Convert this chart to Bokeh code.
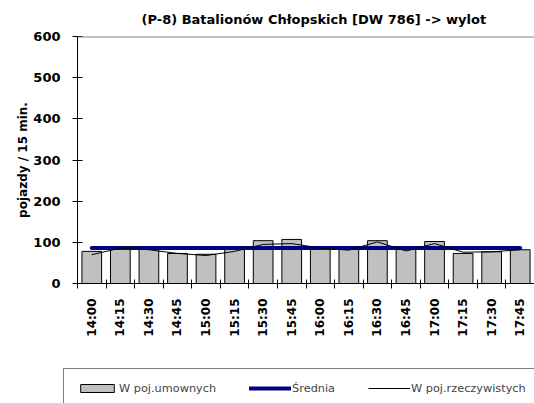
from math import pi
from bokeh.plotting import figure
from bokeh.layouts import column
from bokeh.models import FixedTicker, Span, Legend, LegendItem, Range1d
from bokeh.embed import file_html
from bokeh.resources import INLINE

# ---- data ----
times = ["14:00", "14:15", "14:30", "14:45", "15:00", "15:15", "15:30", "15:45",
         "16:00", "16:15", "16:30", "16:45", "17:00", "17:15", "17:30", "17:45"]
umowne = [78, 85, 83, 73, 71, 83, 104, 107, 85, 83, 104, 83, 102, 73, 77, 82]
rzeczywiste = [70, 86, 82, 73, 68, 78, 95, 97, 86, 81, 101, 79, 97, 76, 77, 82]
srednia = [86] * len(times)
y_ticks = [0, 100, 200, 300, 400, 500, 600]

FONT = "DejaVu Sans"
idx = list(range(len(times)))

BAR_STYLE = dict(fill_color="#C0C0C0", line_color="black", line_width=1)
MEAN_STYLE = dict(line_color="#000080", line_width=4, line_cap="round")
REAL_STYLE = dict(line_color="black", line_width=1)

p = figure(width=534, height=366, output_backend="svg", toolbar_location=None,
           x_range=Range1d(-0.5, len(times) - 0.5), y_range=Range1d(0, 600),
           min_border_left=77, min_border_right=0, min_border_top=35,
           min_border_bottom=83)
p.frame_align = False
p.background_fill_color = "white"
p.border_fill_color = "white"
p.outline_line_color = None
p.xgrid.visible = False
p.ygrid.visible = False

p.title.text = "(P-8) Batalionów Chłopskich [DW 786] -> wylot"
p.title.text_font = FONT
p.title.text_font_size = "13px"
p.title.text_font_style = "bold"
p.title.text_color = "black"
p.title.align = "left"
p.title.offset = 64
p.title.standoff = 19

# x axis
xa = p.xaxis[0]
xa.ticker = FixedTicker(ticks=idx, minor_ticks=[i - 0.5 for i in range(len(times) + 1)])
xa.major_label_overrides = {i: t for i, t in zip(idx, times)}
xa.major_label_orientation = pi / 2
xa.major_tick_in = 0
xa.major_tick_out = 0
xa.minor_tick_in = 4
xa.minor_tick_out = 5
xa.minor_tick_line_color = "black"
xa.axis_line_color = "black"
xa.major_label_text_font = FONT
xa.major_label_text_font_size = "12px"
xa.major_label_text_font_style = "bold"
xa.major_label_text_color = "black"
xa.major_label_standoff = 10

# y axis
ya = p.yaxis[0]
ya.ticker = FixedTicker(ticks=y_ticks)
ya.major_tick_in = 5
ya.major_tick_out = 5
ya.minor_tick_line_color = None
ya.axis_line_color = "black"
ya.major_tick_line_color = "black"
ya.major_label_text_font = FONT
ya.major_label_text_font_size = "13px"
ya.major_label_text_font_style = "bold"
ya.major_label_text_color = "black"
ya.major_label_standoff = 12
ya.axis_label = "pojazdy / 15 min."
ya.axis_label_text_font = FONT
ya.axis_label_text_font_size = "12px"
ya.axis_label_text_font_style = "bold"
ya.axis_label_text_color = "black"
ya.axis_label_standoff = 0

p.add_layout(Span(location=p.y_range.end, dimension="width",
                  line_color="#808080", line_width=2))

p.vbar(x=idx, top=umowne, width=0.69, **BAR_STYLE)
p.line(x=idx, y=srednia, **MEAN_STYLE)
p.line(x=idx, y=rzeczywiste, **REAL_STYLE)

# legend strip (separate figure below the chart; its series lie outside its view)
lg = figure(frame_width=534, frame_height=37, output_backend="svg",
            toolbar_location=None, title=None,
            x_range=Range1d(-0.5, len(times) - 0.5), y_range=Range1d(1000, 1001),
            x_axis_location=None, y_axis_location=None, min_border=0)
lg.frame_align = False
lg.grid.visible = False
lg.outline_line_color = None
lg.background_fill_color = "white"
lg.border_fill_color = "white"
r_bar = lg.vbar(x=idx, top=umowne, width=0.69, **BAR_STYLE)
r_mean = lg.line(x=idx, y=srednia, **MEAN_STYLE)
r_real = lg.line(x=idx, y=rzeczywiste, **REAL_STYLE)

legend = Legend(items=[LegendItem(label="W poj.umownych", renderers=[r_bar]),
                       LegendItem(label="Średnia", renderers=[r_mean]),
                       LegendItem(label="W poj.rzeczywistych", renderers=[r_real])],
                orientation="horizontal", location=(63, -5),
                glyph_width=42, glyph_height=10, label_height=14,
                label_standoff=1, spacing=33, padding=12, margin=0,
                border_line_color="black", border_line_width=1,
                label_text_font=FONT, label_text_font_size="11.3px",
                background_fill_color="white", background_fill_alpha=1)
lg.add_layout(legend)

layout = column(p, lg, spacing=0)
open("out.html", "w").write(file_html(layout, INLINE))
